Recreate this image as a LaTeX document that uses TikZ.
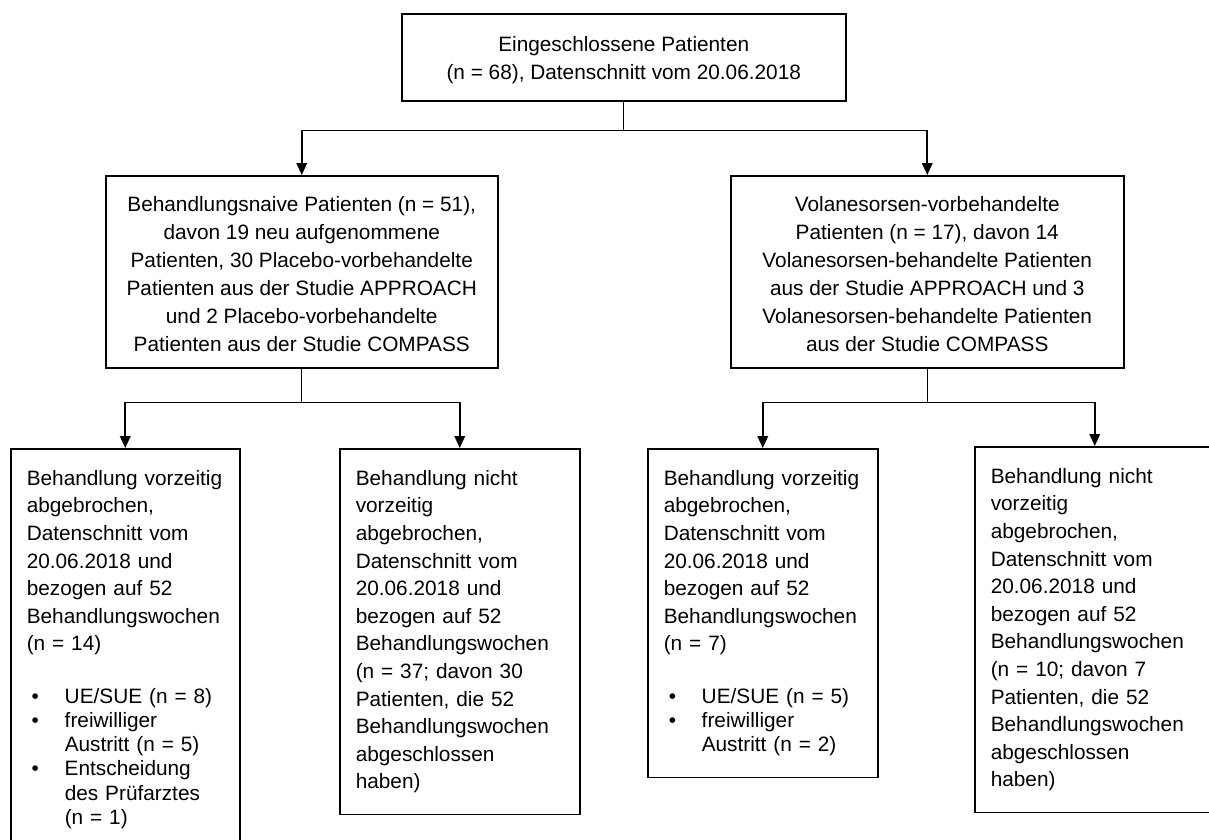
\documentclass[tikz,border=0pt]{standalone}
\usepackage{fontspec}
\setmainfont{Liberation Sans}
\usetikzlibrary{arrows.meta}
\newcommand{\flbullet}{\hspace*{5pt}\makebox[33pt][l]{•}}
\newcommand{\flindent}{\hspace*{38pt}}
\begin{document}
\begin{tikzpicture}[x=1pt,y=-1pt,
  box/.style={draw, line width=1.5pt, rectangle, anchor=north west, inner sep=0pt},
  ctext/.style={align=center, font=\fontsize{20.8pt}{28pt}\selectfont},
  ltext/.style={align=left, inner xsep=16pt, inner ysep=21.5pt, font=\fontsize{20.8pt}{27.6pt}\selectfont},
  stem/.style={line width=1.1pt},
  feed/.style={line width=1.8pt, -{Triangle[width=10.5pt,length=12pt]}},
]
\useasboundingbox (0,0) rectangle (1209,839);
\clip (0,0) rectangle (1209,839);

\node[box, ctext, minimum width=444pt, minimum height=87pt] (top) at (401,13)
  {\rule{0pt}{20pt}Eingeschlossene Patienten\\(n = 68), Datenschnitt vom 20.06.2018};

\node[box, ctext, minimum width=392pt, minimum height=192pt] (midL) at (105,175)
  {\rule{0pt}{19.5pt}Behandlungsnaive Patienten (n = 51),\\
   davon 19 neu aufgenommene\\
   Patienten, 30 Placebo-vorbehandelte\\
   Patienten aus der Studie APPROACH\\
   und 2 Placebo-vorbehandelte\\
   Patienten aus der Studie COMPASS};

\node[box, ctext, minimum width=393pt, minimum height=192pt] (midR) at (730,175)
  {\rule{0pt}{19.5pt}Volanesorsen-vorbehandelte\\
   Patienten (n = 17), davon 14\\
   Volanesorsen-behandelte Patienten\\
   aus der Studie APPROACH und 3\\
   Volanesorsen-behandelte Patienten\\
   aus der Studie COMPASS};

\node[box, ltext, text width=197pt] (LL) at (10,448)
  {Behandlung~vorzeitig\\
   abgebrochen,\\
   Datenschnitt~vom\\
   20.06.2018~und\\
   bezogen~auf~52\\
   Behandlungswochen\\
   (n~=~14)\\[24.5pt]
   \flbullet UE/SUE~(n~=~8)\\[-3.3pt]
   \flbullet freiwilliger\\[-3.3pt]
   \flindent Austritt~(n~=~5)\\[-3.3pt]
   \flbullet Entscheidung\\[-3.3pt]
   \flindent des~Prüfarztes\\[-3.3pt]
   \flindent (n~=~1)};

\node[box, ltext, text width=208pt] (LR) at (339,448)
  {Behandlung~nicht\\
   vorzeitig\\
   abgebrochen,\\
   Datenschnitt~vom\\
   20.06.2018~und\\
   bezogen~auf~52\\
   Behandlungswochen\\
   (n~=~37;~davon~30\\
   Patienten,~die~52\\
   Behandlungswochen\\
   abgeschlossen\\
   haben)};

\node[box, ltext, text width=198pt] (RL) at (647,448)
  {Behandlung~vorzeitig\\
   abgebrochen,\\
   Datenschnitt~vom\\
   20.06.2018~und\\
   bezogen~auf~52\\
   Behandlungswochen\\
   (n~=~7)\\[24.5pt]
   \flbullet UE/SUE~(n~=~5)\\[-3.3pt]
   \flbullet freiwilliger\\[-3.3pt]
   \flindent Austritt~(n~=~2)};

\node[box, ltext, text width=208pt] (RR) at (974,446)
  {Behandlung~nicht\\
   vorzeitig\\
   abgebrochen,\\
   Datenschnitt~vom\\
   20.06.2018~und\\
   bezogen~auf~52\\
   Behandlungswochen\\
   (n~=~10;~davon~7\\
   Patienten,~die~52\\
   Behandlungswochen\\
   abgeschlossen\\
   haben)};

\path (top.south) ++(0,29) coordinate (j0);
\path (midL.south) ++(0,34) coordinate (j1);
\path (midR.south) ++(0,34) coordinate (j2);

\draw[stem] (top.south) -- (j0);
\draw[feed] (j0) -| (midL.north);
\draw[feed] (j0) -| (midR.north);

\draw[stem] (midL.south) -- (j1);
\draw[feed] (j1) -| (LL.north);
\draw[feed] (j1) -| (LR.north);

\draw[stem] (midR.south) -- (j2);
\draw[feed] (j2) -| (RL.north);
\draw[feed] (j2) -| (RR.north);
\end{tikzpicture}
\end{document}
